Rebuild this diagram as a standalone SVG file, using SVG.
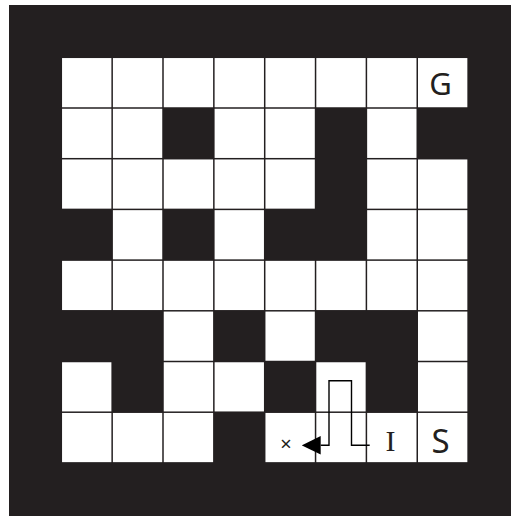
<svg xmlns="http://www.w3.org/2000/svg" width="511" height="516" viewBox="0 0 511 516">
<style>
.c{fill:#ffffff}
.lbl{font-family:"Noto Sans","Open Sans","Liberation Sans",sans-serif;fill:#231f20;text-anchor:middle}
.ser{font-family:"Liberation Serif","DejaVu Serif",serif;fill:#231f20;text-anchor:middle}
.path{fill:none;stroke:#000;stroke-width:1.4}
</style>
<defs>
<marker id="ah" markerUnits="userSpaceOnUse" viewBox="0 0 19 18.4" markerWidth="19" markerHeight="18.4" refX="0" refY="9.2" orient="auto">
<path d="M0,0 L19,9.2 L0,18.4 z" fill="#000"/>
</marker>
</defs>
<rect x="0" y="0" width="511" height="516" fill="#ffffff"/>
<rect id="board" x="9" y="5" width="502" height="511" fill="#231f20"/>
<g id="cells">
<!-- row 0 -->
<rect class="c" x="62.05" y="58.05" width="49.35" height="49.2"/>
<rect class="c" x="112.9" y="58.05" width="49.35" height="49.2"/>
<rect class="c" x="163.75" y="58.05" width="49.35" height="49.2"/>
<rect class="c" x="214.6" y="58.05" width="49.35" height="49.2"/>
<rect class="c" x="265.45" y="58.05" width="49.35" height="49.2"/>
<rect class="c" x="316.3" y="58.05" width="49.35" height="49.2"/>
<rect class="c" x="367.15" y="58.05" width="49.35" height="49.2"/>
<rect class="c" x="418" y="58.05" width="49.35" height="49.2"/>
<!-- row 1 -->
<rect class="c" x="62.05" y="108.75" width="49.35" height="49.2"/>
<rect class="c" x="112.9" y="108.75" width="49.35" height="49.2"/>
<rect class="c" x="214.6" y="108.75" width="49.35" height="49.2"/>
<rect class="c" x="265.45" y="108.75" width="49.35" height="49.2"/>
<rect class="c" x="367.15" y="108.75" width="49.35" height="49.2"/>
<!-- row 2 -->
<rect class="c" x="62.05" y="159.45" width="49.35" height="49.2"/>
<rect class="c" x="112.9" y="159.45" width="49.35" height="49.2"/>
<rect class="c" x="163.75" y="159.45" width="49.35" height="49.2"/>
<rect class="c" x="214.6" y="159.45" width="49.35" height="49.2"/>
<rect class="c" x="265.45" y="159.45" width="49.35" height="49.2"/>
<rect class="c" x="367.15" y="159.45" width="49.35" height="49.2"/>
<rect class="c" x="418" y="159.45" width="49.35" height="49.2"/>
<!-- row 3 -->
<rect class="c" x="112.9" y="210.15" width="49.35" height="49.2"/>
<rect class="c" x="214.6" y="210.15" width="49.35" height="49.2"/>
<rect class="c" x="367.15" y="210.15" width="49.35" height="49.2"/>
<rect class="c" x="418" y="210.15" width="49.35" height="49.2"/>
<!-- row 4 -->
<rect class="c" x="62.05" y="260.85" width="49.35" height="49.2"/>
<rect class="c" x="112.9" y="260.85" width="49.35" height="49.2"/>
<rect class="c" x="163.75" y="260.85" width="49.35" height="49.2"/>
<rect class="c" x="214.6" y="260.85" width="49.35" height="49.2"/>
<rect class="c" x="265.45" y="260.85" width="49.35" height="49.2"/>
<rect class="c" x="316.3" y="260.85" width="49.35" height="49.2"/>
<rect class="c" x="367.15" y="260.85" width="49.35" height="49.2"/>
<rect class="c" x="418" y="260.85" width="49.35" height="49.2"/>
<!-- row 5 -->
<rect class="c" x="163.75" y="311.55" width="49.35" height="49.2"/>
<rect class="c" x="265.45" y="311.55" width="49.35" height="49.2"/>
<rect class="c" x="418" y="311.55" width="49.35" height="49.2"/>
<!-- row 6 -->
<rect class="c" x="62.05" y="362.25" width="49.35" height="49.2"/>
<rect class="c" x="163.75" y="362.25" width="49.35" height="49.2"/>
<rect class="c" x="214.6" y="362.25" width="49.35" height="49.2"/>
<rect class="c" x="316.3" y="362.25" width="49.35" height="49.2"/>
<rect class="c" x="418" y="362.25" width="49.35" height="49.2"/>
<!-- row 7 -->
<rect class="c" x="62.05" y="412.95" width="49.35" height="49.2"/>
<rect class="c" x="112.9" y="412.95" width="49.35" height="49.2"/>
<rect class="c" x="163.75" y="412.95" width="49.35" height="49.2"/>
<rect class="c" x="265.45" y="412.95" width="49.35" height="49.2"/>
<rect class="c" x="316.3" y="412.95" width="49.35" height="49.2"/>
<rect class="c" x="367.15" y="412.95" width="49.35" height="49.2"/>
<rect class="c" x="418" y="412.95" width="49.35" height="49.2"/>
</g>
<g id="goal"><text class="lbl" x="440.5" y="95" font-size="31">G</text></g>
<g id="start"><text class="lbl" x="440.5" y="453" font-size="33">S</text></g>
<g id="intermediate"><text class="ser" x="390.5" y="451" font-size="30">I</text></g>
<g id="target"><text class="lbl" x="286" y="451" font-size="20">×</text></g>
<g id="connectors">
<path class="path" d="M369.7 445.3 H351.5 V380.7 H329 V445.3 H320.7" marker-end="url(#ah)"/>
</g>
</svg>
